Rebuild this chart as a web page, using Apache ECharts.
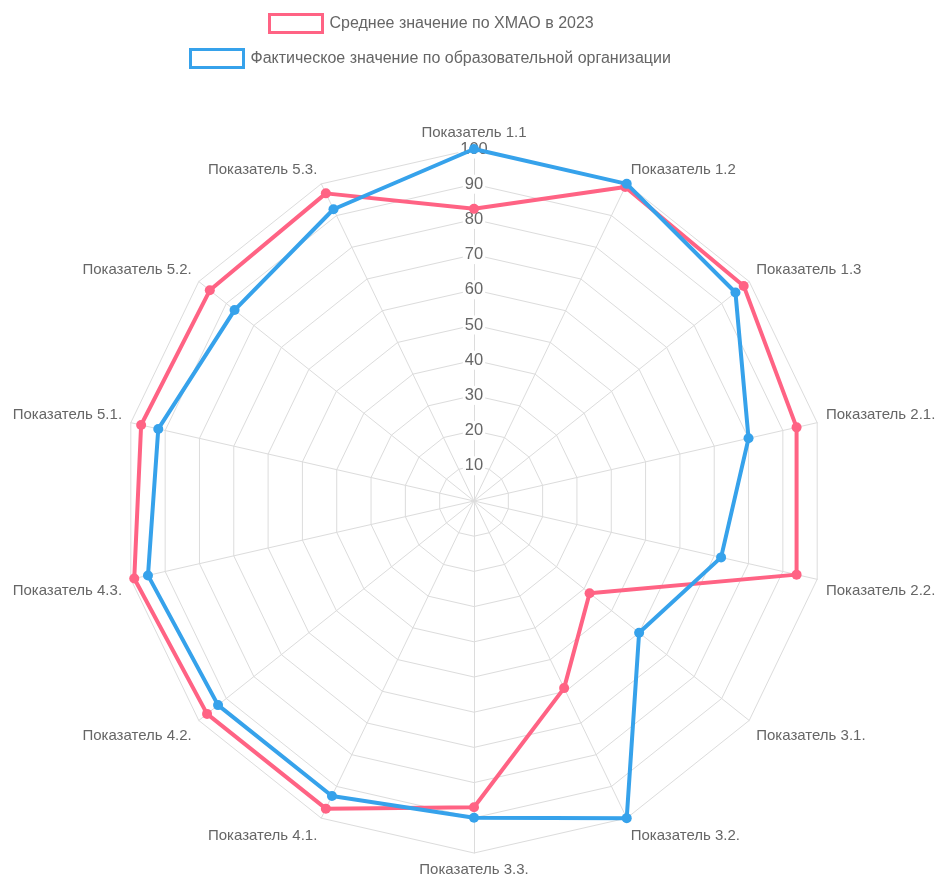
<!DOCTYPE html>
<html>
<head>
<meta charset="utf-8">
<script src="https://cdn.jsdelivr.net/npm/echarts@6/dist/echarts.min.js"></script>
<style>
  html, body { margin: 0; padding: 0; background: #fff; }
  #chart { width: 936px; height: 876px; }
</style>
</head>
<body>
<div id="chart"></div>
<script>
var myChart = echarts.init(document.getElementById('chart'));

// Показатели по часовой стрелке, начиная сверху
var indicators = [
    'Показатель 1.1', 'Показатель 1.2', 'Показатель 1.3',
    'Показатель 2.1.', 'Показатель 2.2.',
    'Показатель 3.1.', 'Показатель 3.2.', 'Показатель 3.3.',
    'Показатель 4.1.', 'Показатель 4.2.', 'Показатель 4.3.',
    'Показатель 5.1.', 'Показатель 5.2.', 'Показатель 5.3.'
];
var avgValues  = [83, 99, 98, 94, 94, 42, 59, 87, 97, 97, 99, 97, 96, 97];
var factValues = [100, 100, 95, 80, 72, 60, 100, 90, 93, 93, 95, 92, 87, 92];
var seriesNames = [
    'Среднее значение по ХМАО в 2023',
    'Фактическое значение по образовательной организации'
];

// ECharts кладёт оси радара против часовой стрелки — разворачиваем порядок
function clockwise(arr) {
    return [arr[0]].concat(arr.slice(1).reverse());
}

var font = 'Liberation Sans, Arial, Helvetica, sans-serif';
var gridColor = '#dcdcdc';

// подписи верхней половины чуть выше, нижней — чуть ниже (как в chart.js)
function nameStyle(name) {
    var i = indicators.indexOf(name);
    if (i === 0 || i === 7) return '{m|' + name + '}';
    if (i >= 4 && i <= 10) return '{b|' + name + '}';
    return '{t|' + name + '}';
}

function legendItem(name, color, top, left) {
    return {
        data: [name],
        top: top,
        left: left,
        padding: 0,
        icon: 'rect',
        itemWidth: 53,
        itemHeight: 18,
        itemStyle: { color: '#fff', borderColor: color, borderWidth: 3 },
        textStyle: { color: '#666', fontSize: 16, fontFamily: font, padding: [0, 0, 0, 2] }
    };
}

var option = {
    backgroundColor: '#fff',
    textStyle: { fontFamily: font },
    legend: [
        legendItem(seriesNames[0], '#ff6384', 13, 268),
        legendItem(seriesNames[1], '#36a2eb', 48, 189)
    ],
    radar: {
        center: [474, 501],
        radius: 352,
        shape: 'polygon',
        splitNumber: 10,
        nameGap: 9,
        axisName: {
            color: '#666',
            fontSize: 15,
            fontFamily: font,
            formatter: nameStyle,
            rich: {
                m: { color: '#666', fontSize: 15, fontFamily: font },
                t: { color: '#666', fontSize: 15, fontFamily: font, padding: [0, 0, 12, 0] },
                b: { color: '#666', fontSize: 15, fontFamily: font, padding: [20, 0, 0, 0] }
            }
        },
        axisLine: { lineStyle: { color: gridColor, width: 1 } },
        splitLine: { lineStyle: { color: gridColor, width: 1 } },
        splitArea: { show: false },
        indicator: clockwise(indicators).map(function (n) {
            return { name: n, min: 0, max: 100 };
        })
    },
    // полярная система только ради подписей шкалы на вертикальной оси
    polar: { center: [474, 501], radius: 352 },
    angleAxis: {
        startAngle: 90, min: 0, max: 360,
        axisLine: { show: false }, axisTick: { show: false },
        axisLabel: { show: false }, splitLine: { show: false }
    },
    radiusAxis: {
        min: 0, max: 100, interval: 10, z: 1,
        axisLine: { show: false }, axisTick: { show: false },
        splitLine: { show: false },
        axisLabel: {
            showMinLabel: false,
            margin: 0,
            align: 'center',
            verticalAlign: 'middle',
            color: '#666',
            fontSize: 16.5,
            fontFamily: font,
            backgroundColor: '#fff',
            padding: [1, 2]
        }
    },
    series: [{
        name: seriesNames[0],
        type: 'radar',
        z: 5,
        symbol: 'circle',
        symbolSize: 10,
        itemStyle: { color: '#ff6384' },
        lineStyle: { color: '#ff6384', width: 4 },
        data: [{ name: seriesNames[0], value: clockwise(avgValues) }]
    }, {
        name: seriesNames[1],
        type: 'radar',
        z: 6,
        symbol: 'circle',
        symbolSize: 10,
        itemStyle: { color: '#36a2eb' },
        lineStyle: { color: '#36a2eb', width: 4 },
        data: [{ name: seriesNames[1], value: clockwise(factValues) }]
    }]
};

myChart.setOption(option);
</script>
</body>
</html>
